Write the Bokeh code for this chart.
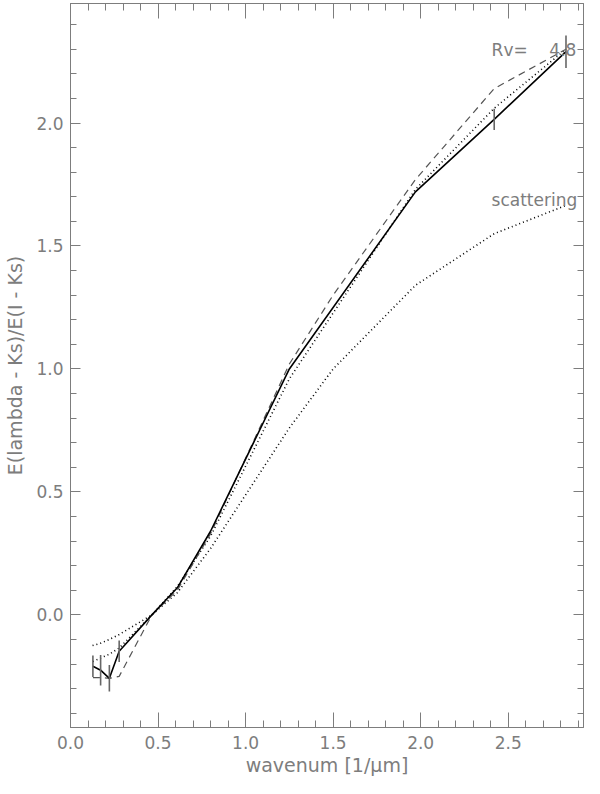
from bokeh.plotting import figure
from bokeh.models import Range1d, LinearAxis, SingleIntervalTicker, ColumnDataSource, PrintfTickFormatter
from bokeh.core.properties import value
from bokeh.embed import file_html
from bokeh.resources import INLINE

# observed colour excess ratios (solid line with error bars)
obs_x = [0.128, 0.172, 0.222, 0.278, 0.465, 0.61, 0.80, 1.25, 1.97, 2.42, 2.83]
obs_y = [-0.209, -0.225, -0.258, -0.148, 0.0, 0.11, 0.34, 1.0, 1.72, 2.015, 2.29]

err_x = [0.128, 0.172, 0.222, 0.278, 2.42, 2.83]
err_y = [-0.209, -0.225, -0.258, -0.148, 2.015, 2.29]
err_d = [0.044, 0.062, 0.054, 0.044, 0.043, 0.066]

# model curve (dotted, close to observations)
mod_x = [0.128, 0.172, 0.222, 0.278, 0.465, 0.61, 0.80, 1.25, 1.97, 2.42, 2.83]
mod_y = [-0.19, -0.175, -0.16, -0.135, 0.0, 0.115, 0.32, 0.96, 1.73, 2.06, 2.30]

# dashed curve
dash_x = [0.128, 0.172, 0.222, 0.278, 0.465, 0.61, 0.80, 1.25, 1.50, 1.97, 2.42, 2.83]
dash_y = [-0.255, -0.255, -0.258, -0.25, 0.0, 0.10, 0.33, 1.02, 1.30, 1.77, 2.14, 2.30]

# scattering curve (dotted)
scat_x = [0.126, 0.172, 0.222, 0.278, 0.465, 0.61, 0.80, 1.25, 1.50, 1.97, 2.42, 2.83]
scat_y = [-0.125, -0.115, -0.10, -0.08, 0.0, 0.09, 0.27, 0.76, 1.0, 1.34, 1.55, 1.665]

# annotations
ann_x = [2.405, 2.405]
ann_y = [2.297, 1.687]
ann_text = ["Rv=\u00a0\u00a0\u00a0\u00a04.8", "scattering"]

GRAY = "#7d7d7d"
FONT = "DejaVu Sans"

p = figure(width=584, height=778, output_backend="svg", toolbar_location=None,
           x_range=Range1d(0.0, 2.93), y_range=Range1d(-0.458, 2.486),
           min_border_left=70, min_border_right=1, min_border_top=3, min_border_bottom=46)
p.xgrid.visible = False
p.ygrid.visible = False
p.outline_line_color = GRAY
p.background_fill_color = "white"
p.border_fill_color = "white"

def style(ax, tin, minin, show_labels=True):
    ax.axis_line_color = GRAY
    ax.major_tick_line_color = GRAY
    ax.minor_tick_line_color = GRAY
    ax.major_tick_in = tin
    ax.major_tick_out = 0
    ax.minor_tick_in = minin
    ax.minor_tick_out = 0
    ax.major_label_text_color = GRAY
    ax.major_label_text_font = FONT
    ax.major_label_text_font_size = "17px" if show_labels else "0px"
    ax.major_label_standoff = 7
    ax.axis_label_text_color = GRAY
    ax.axis_label_text_font = FONT
    ax.axis_label_text_font_size = "19px"
    ax.axis_label_text_font_style = "normal"

p.xaxis.ticker = SingleIntervalTicker(interval=0.5, num_minor_ticks=5)
p.yaxis.ticker = SingleIntervalTicker(interval=0.5, num_minor_ticks=5)
p.xaxis.formatter = PrintfTickFormatter(format="%.1f")
p.yaxis.formatter = PrintfTickFormatter(format="%.1f")
p.xaxis.axis_label = "wavenum [1/\u03bcm]"
p.yaxis.axis_label = "E(lambda - Ks)/E(I - Ks)"
style(p.xaxis[0], 15, 7)
style(p.yaxis[0], 10, 6)
p.xaxis.axis_label_standoff = 2
p.yaxis.axis_label_standoff = 7
p.xaxis[0].major_label_standoff = 8

top = LinearAxis(ticker=SingleIntervalTicker(interval=0.5, num_minor_ticks=5))
style(top, 15, 7, show_labels=False)
p.add_layout(top, "above")
right = LinearAxis(ticker=SingleIntervalTicker(interval=0.5, num_minor_ticks=5))
style(right, 10, 6, show_labels=False)
p.add_layout(right, "right")
for ax in (top, right):
    ax.major_label_standoff = 0
    ax.major_label_text_alpha = 0

p.line(scat_x, scat_y, line_color="black", line_width=1.6, line_dash="1 3")
p.line(mod_x, mod_y, line_color="black", line_width=1.6, line_dash="1 3")
p.line(dash_x, dash_y, line_color="#555555", line_width=1.2, line_dash="7 5")
p.line(obs_x, obs_y, line_color="black", line_width=1.6)

src = ColumnDataSource(dict(x=err_x, lo=[y - d for y, d in zip(err_y, err_d)],
                            hi=[y + d for y, d in zip(err_y, err_d)]))
p.segment(x0="x", y0="lo", x1="x", y1="hi", source=src, line_color="#666666", line_width=1.6)

p.text(x=ann_x, y=ann_y, text=ann_text, text_color=GRAY, text_font=value(FONT),
       text_font_size="17px", text_baseline="alphabetic", text_align="left")

open("out.html", "w").write(file_html(p, INLINE))
